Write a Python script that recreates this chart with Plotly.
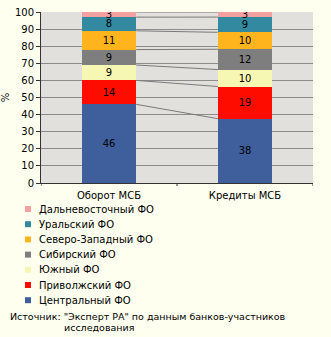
import plotly.graph_objects as go

categories = ["Оборот МСБ", "Кредиты МСБ"]
regions = ["Центральный ФО", "Приволжский ФО", "Южный ФО", "Сибирский ФО",
           "Северо-Западный ФО", "Уральский ФО", "Дальневосточный ФО"]
turnover = [46, 14, 9, 9, 11, 8, 3]
loans = [38, 19, 10, 12, 10, 9, 3]
colors = ["#3F5E9C", "#FF0C00", "#F7F7B4", "#7E7E7E", "#FFB41E", "#338AA0", "#F2A0A0"]
y_ticks = list(range(0, 101, 10))
source_lines = ["Источник: ", "\"Эксперт РА\" по данным банков-участников", "исследования"]

FONT = "DejaVu Sans"
FS = 10
xpos = [0, 1]
bar_w = 0.4

# plot-area geometry in pixels
W, H = 331, 337
ML, MR, MT, MB = 41, 18, 12, 154
PW, PH = W - ML - MR, H - MT - MB


def px_x(p):
    return (p - ML) / PW


def px_y(p):
    return 1 - (p - MT) / PH


fig = go.Figure()
for name, a, b, c in zip(regions, turnover, loans, colors):
    fig.add_trace(go.Bar(
        x=xpos, y=[a, b], name=name, width=bar_w,
        marker=dict(color=c, line=dict(width=0)),
        text=[str(a), str(b)], textposition="inside", insidetextanchor="middle",
        textangle=0, constraintext="none",
        textfont=dict(color="black", size=FS, family=FONT),
        hoverinfo="skip", showlegend=False,
    ))


# series lines joining the segment tops of neighbouring bars
def cum_pct(vals):
    tot = sum(vals)
    out, s = [], 0
    for v in vals:
        s += v
        out.append(s / tot * 100)
    return out


c1, c2 = cum_pct(turnover), cum_pct(loans)
for a, b in zip(c1, c2):
    fig.add_trace(go.Scatter(
        x=[xpos[0] + bar_w / 2, xpos[1] - bar_w / 2], y=[a, b], mode="lines",
        line=dict(color="#7A7A7A", width=1), showlegend=False, hoverinfo="skip",
    ))

fig.update_layout(
    barmode="stack", barnorm="percent",
    width=W, height=H,
    margin=dict(l=ML, r=MR, t=MT, b=MB, autoexpand=False),
    paper_bgcolor="#FFFFEF", plot_bgcolor="#E1E0DC",
    font=dict(family=FONT, size=FS, color="black"),
    showlegend=False,
    xaxis=dict(
        range=[-0.5, 1.5], tickvals=xpos, ticktext=categories,
        showgrid=False, zeroline=False, showline=True, linecolor="#333333",
        ticks="", tickfont=dict(size=FS), ticklabelstandoff=3,
    ),
    yaxis=dict(
        range=[0, 100], tickvals=y_ticks, showgrid=True, gridcolor="#8C8C8C",
        gridwidth=1, zeroline=False, showline=True, linecolor="#333333",
        ticks="outside", ticklen=4, tickcolor="#333333", tickfont=dict(size=FS),
        title=dict(text="%", standoff=3, font=dict(size=FS)),
    ),
)

# category separators on the x axis
for xv in [-0.5, 0.5, 1.5]:
    fig.add_shape(type="line", xref="x", yref="paper", x0=xv, x1=xv, y0=0, y1=-3 / PH,
                  line=dict(color="#333333", width=1))

# legend: small colour squares with labels, top entry first
for i, (name, c) in enumerate(zip(regions[::-1], colors[::-1])):
    cy = 209 + 15.2 * i
    fig.add_shape(type="rect", xref="paper", yref="paper",
                  x0=px_x(25), x1=px_x(31), y0=px_y(cy + 3), y1=px_y(cy - 3),
                  fillcolor=c, line=dict(width=0))
    fig.add_annotation(xref="paper", yref="paper", x=px_x(37), y=px_y(cy),
                       xanchor="left", yanchor="middle", showarrow=False,
                       text=name, font=dict(size=FS))

fig.add_annotation(xref="paper", yref="paper", x=px_x(8), y=px_y(316),
                   xanchor="left", yanchor="middle", showarrow=False,
                   text=source_lines[0] + source_lines[1], font=dict(size=9.5))
fig.add_annotation(xref="paper", yref="paper", x=px_x(62), y=px_y(327),
                   xanchor="left", yanchor="middle", showarrow=False,
                   text=source_lines[2], font=dict(size=9.5))

fig.write_html("out.html")
